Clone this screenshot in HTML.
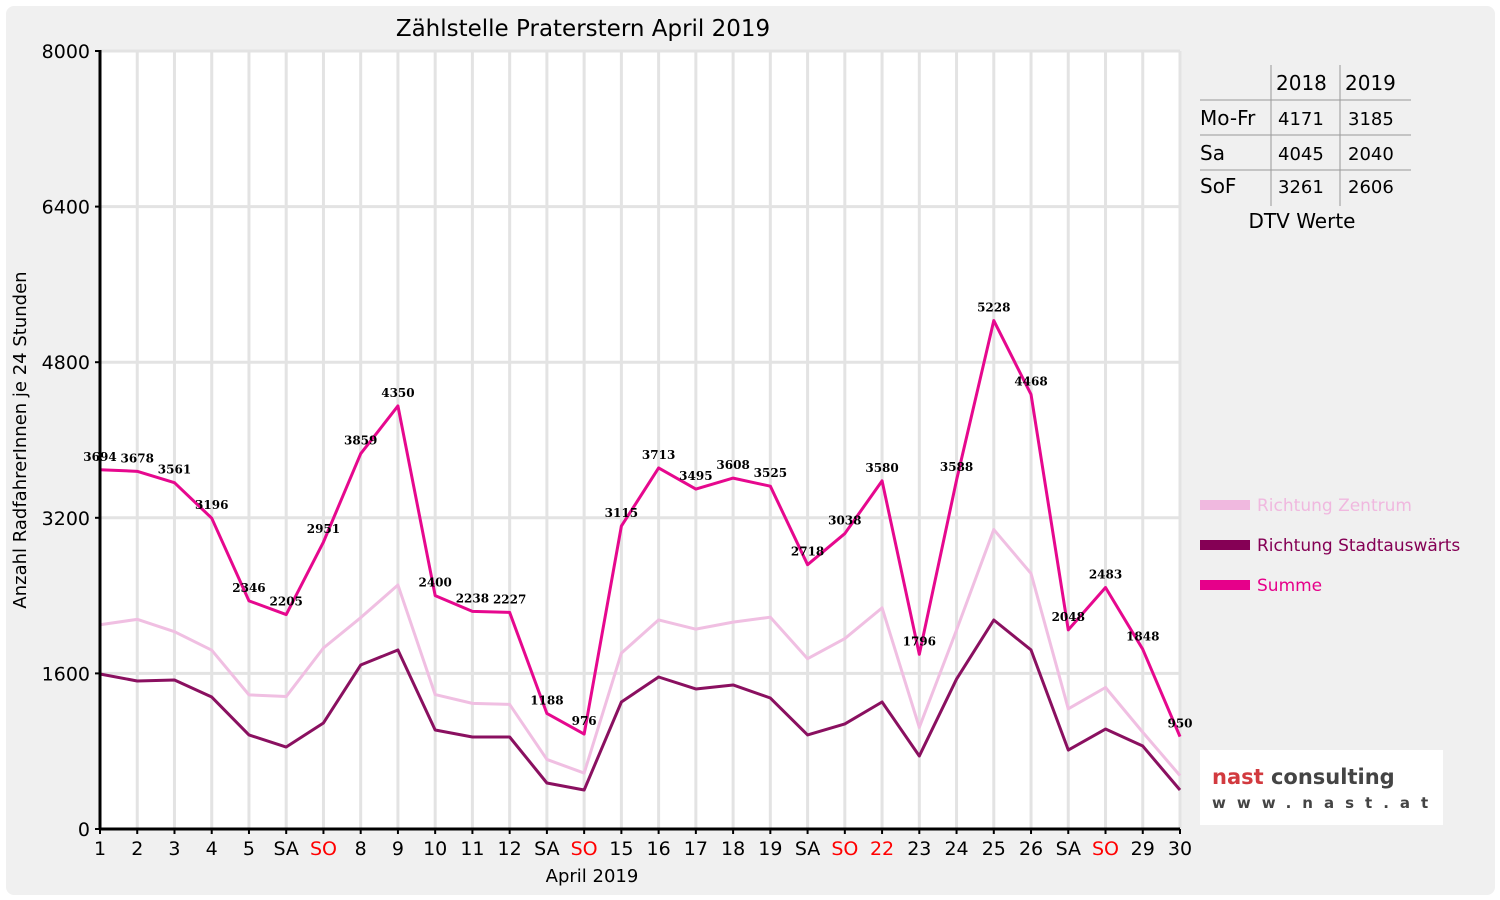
<!DOCTYPE html>
<html><head><meta charset="utf-8"><style>
body{margin:0;background:#fff;}
svg{display:block;font-family:"DejaVu Sans","Liberation Sans",sans-serif;}
</style></head><body>
<svg id="chart" width="1500" height="900">
<rect x="6" y="6" width="1489" height="889" rx="8" fill="#f0f0f0"/>
<rect x="100" y="51" width="1080" height="778" fill="#fff"/>
<text x="583" y="36" font-size="23" text-anchor="middle" fill="#000">Zählstelle Praterstern April 2019</text>
<g id="grid"></g><g id="series"></g><g id="labels"></g><g id="axes"></g>
<text transform="translate(26,440) rotate(-90)" font-size="18" text-anchor="middle">Anzahl RadfahrerInnen je 24 Stunden</text>
<text x="592" y="882" font-size="18" text-anchor="middle">April 2019</text>
<g font-size="20">
<line x1="1271" y1="65" x2="1271" y2="206" stroke="#999"/>
<line x1="1340" y1="65" x2="1340" y2="206" stroke="#999"/>
<line x1="1200" y1="100" x2="1411" y2="100" stroke="#999"/>
<line x1="1200" y1="135" x2="1411" y2="135" stroke="#999"/>
<line x1="1200" y1="170" x2="1411" y2="170" stroke="#999"/>
<text x="1276" y="90">2018</text><text x="1345" y="90">2019</text>
<text x="1200" y="125">Mo-Fr</text><text x="1278" y="125" font-size="18">4171</text><text x="1348" y="125" font-size="18">3185</text>
<text x="1200" y="160">Sa</text><text x="1278" y="160" font-size="18">4045</text><text x="1348" y="160" font-size="18">2040</text>
<text x="1200" y="193">SoF</text><text x="1278" y="193" font-size="18">3261</text><text x="1348" y="193" font-size="18">2606</text>
<text x="1302" y="228" text-anchor="middle">DTV Werte</text>
</g>
<g font-size="17">
<rect x="1200" y="500" width="50" height="10" fill="#f0b8df"/>
<text x="1257" y="511" fill="#f0b8df">Richtung Zentrum</text>
<rect x="1200" y="540" width="50" height="10" fill="#850055"/>
<text x="1257" y="551" fill="#850055">Richtung Stadtauswärts</text>
<rect x="1200" y="580" width="50" height="10" fill="#e6008a"/>
<text x="1257" y="591" fill="#e6008a">Summe</text>
</g>
<g>
<rect x="1200" y="750" width="243" height="75" fill="#fff"/>
<text x="1212" y="784" font-size="21" font-weight="bold" fill="#d23a3f">nast <tspan fill="#444">consulting</tspan></text>
<text x="1212" y="808" font-size="15" font-weight="bold" fill="#444" letter-spacing="11">www.nast.at</text>
</g>
</svg>
<script>
const days=["1","2","3","4","5","SA","SO","8","9","10","11","12","SA","SO","15","16","17","18","19","SA","SO","22","23","24","25","26","SA","SO","29","30"];
const redDays=["SO","22"];
const summe=[3694,3678,3561,3196,2346,2205,2951,3859,4350,2400,2238,2227,1188,976,3115,3713,3495,3608,3525,2718,3038,3580,1796,3588,5228,4468,2048,2483,1848,950];
const stadt=[1594,1522,1532,1357,967,843,1090,1686,1841,1018,946,946,473,401,1306,1563,1440,1481,1347,967,1080,1306,751,1542,2149,1841,812,1028,853,401];
const zentrum=[2100,2156,2029,1839,1379,1362,1861,2173,2509,1382,1292,1281,715,575,1809,2150,2055,2127,2178,1751,1958,2274,1045,2046,3079,2627,1236,1455,995,549];
const yTicks=[0,1600,3200,4800,6400,8000];
const NS="http://www.w3.org/2000/svg";
const x0=100,x1=1180,y0=829,y1=51,yMax=8000;
const X=i=>x0+i*(x1-x0)/(days.length-1);
const Y=v=>y0-v*(y0-y1)/yMax;
function mk(tag,attrs,parent,text){const e=document.createElementNS(NS,tag);for(const k in attrs)e.setAttribute(k,attrs[k]);if(text!==undefined)e.textContent=text;document.getElementById(parent).appendChild(e);return e;}
days.forEach((d,i)=>{if(i>0){const l=mk('line',{x1:X(i),x2:X(i),y1:y1,y2:y0,stroke:'#e3e3e3','stroke-width':3},'grid');

}
const t=mk('text',{x:X(i),y:855,'font-size':19,'text-anchor':'middle',fill:redDays.includes(d)?'#ff0000':'#000'},'axes',d);


const tk=mk('line',{x1:X(i),x2:X(i),y1:y0,y2:y0+5,stroke:'#000','stroke-width':2},'axes');

});
yTicks.forEach(v=>{if(v>0){const l=mk('line',{x1:x0,x2:x1,y1:Y(v),y2:Y(v),stroke:'#e3e3e3','stroke-width':3},'grid');

}
const t=mk('text',{x:90,y:Y(v)+7,'font-size':19,'text-anchor':'end'},'axes',v);


const tk=mk('line',{x1:x0-5,x2:x0,y1:Y(v),y2:Y(v),stroke:'#000','stroke-width':2},'axes');

});
const ay=mk('line',{x1:x0,x2:x0,y1:y1-1,y2:y0,stroke:'#000','stroke-width':3},'axes');


const ax=mk('line',{x1:x0,x2:x1,y1:y0,y2:y0,stroke:'#000','stroke-width':3},'axes');


function line(vals,col,name){const p=mk('polyline',{points:vals.map((v,i)=>X(i)+','+Y(v)).join(' '),fill:'none',stroke:col,'stroke-width':3,'stroke-linejoin':'round'},'series');

}
line(zentrum,'#f0bfe2','line-richtung-zentrum');
line(stadt,'#8a1060','line-richtung-stadtauswaerts');
line(summe,'#e6088e','line-summe');
summe.forEach((v,i)=>{const t=mk('text',{x:X(i),y:Y(v)-9,'font-size':12,'font-weight':'bold','text-anchor':'middle',fill:'#000','font-family':'"DejaVu Serif","Liberation Serif",serif'},'labels',v);

});
</script>
</body></html>
